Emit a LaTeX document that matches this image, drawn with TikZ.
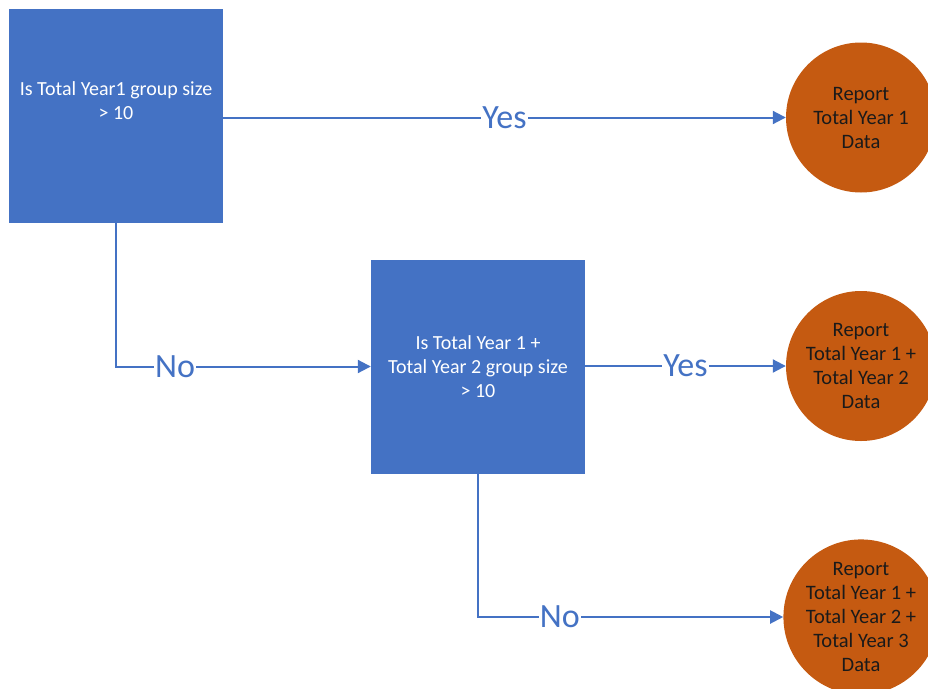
\documentclass[tikz,border=0pt]{standalone}
\usepackage{fontspec}
\setmainfont{Carlito}
\usetikzlibrary{arrows.meta}
\definecolor{boxblue}{HTML}{4472C4}
\definecolor{repor}{HTML}{C55A11}
\definecolor{reptext}{HTML}{1A1A1A}
\tikzset{
  decision/.style={fill=boxblue, draw=none, minimum width=214pt, minimum height=214pt, inner sep=0pt,
    text=white, align=center, font=\fontsize{20}{24}\selectfont},
  report/.style={circle, fill=repor, draw=none, minimum size=150pt, inner sep=0pt,
    text=reptext, align=center, font=\fontsize{20.5}{24}\selectfont},
  conn/.style={draw=boxblue, line width=2pt, -{Triangle[length=13pt,width=13pt]}},
  lab/.style={fill=white, text=boxblue, inner sep=1pt, font=\fontsize{34}{34}\selectfont}
}
\begin{document}
\begin{tikzpicture}[x=1pt,y=-1pt]
\useasboundingbox (0,0) rectangle (928,688);
\node[decision] (q1) at (116,116) {Is Total Year1 group size\\ > 10\\ \strut};
\node[decision] (q2) at (478,366.5) {Is Total Year 1 +\\ Total Year 2 group size\\ > 10};
\node[report] (r1) at (861,117.5) {Report\\ Total Year 1\\ Data};
\node[report] (r2) at (861,366) {Report\\ Total Year 1 +\\ Total Year 2\\ Data};
\node[report] (r3) at (861,617) {Report\\ Total Year 1 +\\ Total Year 2 +\\ Total Year 3\\ Data};
\draw[conn] (q1.east |- r1.west) -- node[lab] {Yes} (r1.west);
\draw[conn] (q1.south) |- node[lab, pos=0.616] {No} (q2.west);
\draw[conn] (q2.east |- r2.west) -- node[lab] {Yes} (r2.west);
\draw[conn] (q2.south) |- node[lab, pos=0.634] {No} (r3.west);
\end{tikzpicture}
\end{document}
